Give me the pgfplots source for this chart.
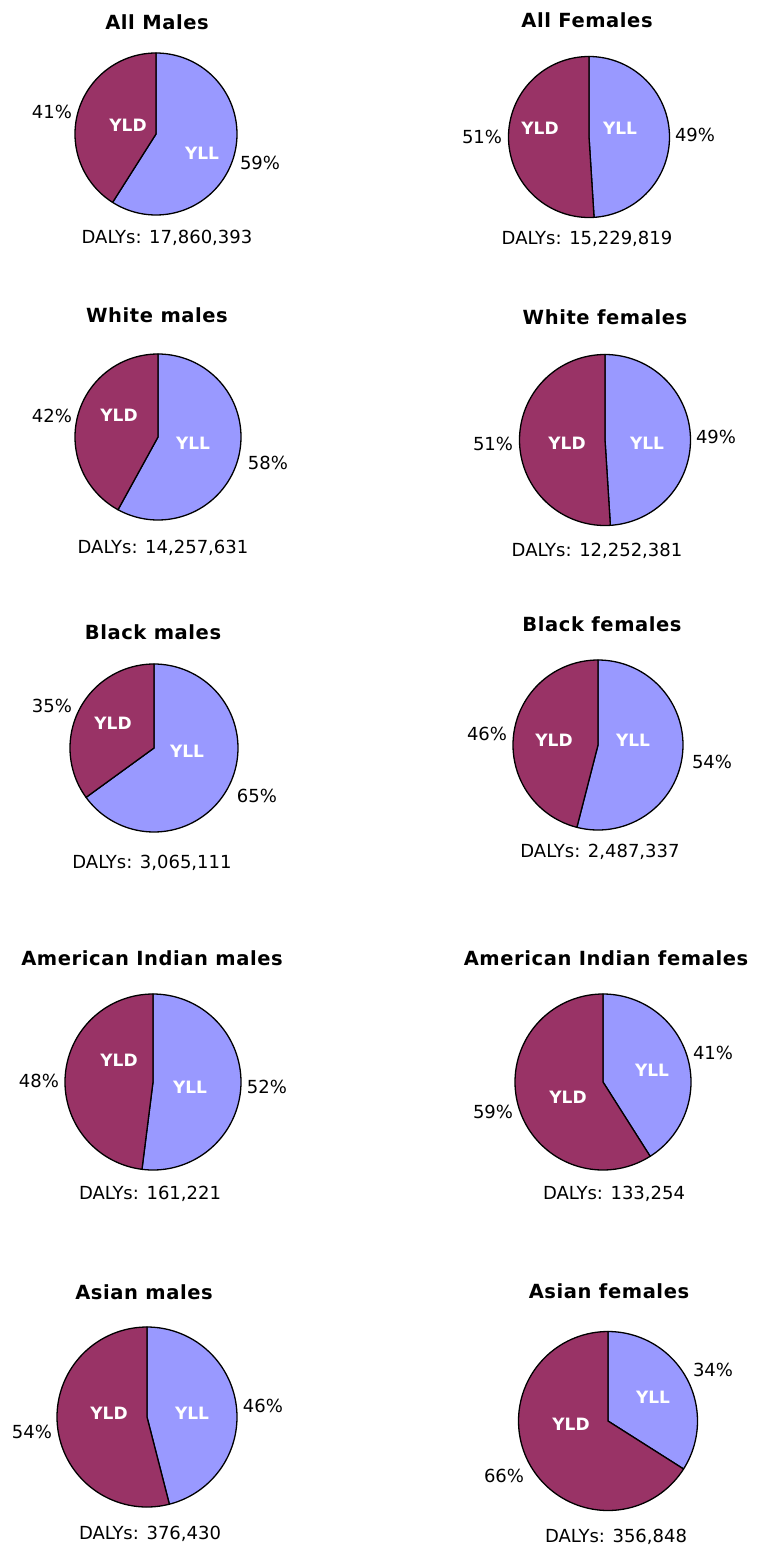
\documentclass[border=0pt]{standalone}
\usepackage{pgfplots}
\pgfplotsset{compat=1.18}
\usepackage{fontspec}
\setmainfont{DejaVu Sans}
\newfontfamily\titlefont[LetterSpace=3]{DejaVu Sans}
\definecolor{yldc}{RGB}{153,51,102}
\definecolor{yllc}{RGB}{153,153,255}
% pie: cx, cy, r, YLL percent (YLL clockwise from 12 o'clock)
\newcommand{\pie}[4]{%
  \addplot[fill=yllc, draw=black, line width=1.3pt, line join=round, domain=90-3.6*#4:90, samples=90, variable=\t]
    ({#1+#3*cos(\t)},{#2-#3*sin(\t)}) -- (axis cs:#1,#2) -- cycle;
  \addplot[fill=yldc, draw=black, line width=1.3pt, line join=round, domain=-270:90-3.6*#4, samples=90, variable=\t]
    ({#1+#3*cos(\t)},{#2-#3*sin(\t)}) -- (axis cs:#1,#2) -- cycle;
}
\begin{document}
\begin{tikzpicture}[
  ttl/.style={anchor=base, yshift=-7.1pt, font=\titlefont\bfseries\fontsize{19.5}{22}\selectfont, inner sep=0pt},
  lbl/.style={anchor=base, yshift=-6.6pt, font=\fontsize{18}{20}\selectfont, inner sep=0pt},
  inl/.style={anchor=base, yshift=-6.2pt, font=\bfseries\fontsize{17}{19}\selectfont, text=white, inner sep=0pt}]
\path[use as bounding box] (0,0) rectangle (756pt,1549pt);
\begin{axis}[x=1pt, y=1pt, xmin=0, xmax=756, ymin=0, ymax=1549, y dir=reverse,
  hide axis, clip=false, at={(0,0)}, anchor=south west]
% ---- data: centre x, centre y, radius, YLL %
\pie{156}{134}{81}{59}
\pie{589}{137}{80.5}{49}
\pie{158}{437}{83}{58}
\pie{605}{440}{85.5}{49}
\pie{154}{748}{84}{65}
\pie{598}{745}{85}{54}
\pie{153}{1082}{88}{52}
\pie{603}{1082}{88}{41}
\pie{147}{1417}{90}{46}
\pie{608}{1421}{89.5}{34}
% ---- titles
\node[ttl] at (axis cs:157,22) {All Males};
\node[ttl] at (axis cs:587,20) {All Females};
\node[ttl] at (axis cs:157,315) {White males};
\node[ttl] at (axis cs:605,317) {White females};
\node[ttl] at (axis cs:153,632) {Black males};
\node[ttl] at (axis cs:602,624) {Black females};
\node[ttl] at (axis cs:152,958) {American Indian males};
\node[ttl] at (axis cs:606,958) {American Indian females};
\node[ttl] at (axis cs:144,1292) {Asian males};
\node[ttl] at (axis cs:609,1291) {Asian females};
% ---- totals
\node[lbl] at (axis cs:167,237) {DALYs: 17,860,393};
\node[lbl] at (axis cs:587,238) {DALYs: 15,229,819};
\node[lbl] at (axis cs:163,547) {DALYs: 14,257,631};
\node[lbl] at (axis cs:597,550) {DALYs: 12,252,381};
\node[lbl] at (axis cs:152,862) {DALYs: 3,065,111};
\node[lbl] at (axis cs:600,851) {DALYs: 2,487,337};
\node[lbl] at (axis cs:150,1193) {DALYs: 161,221};
\node[lbl] at (axis cs:614,1193) {DALYs: 133,254};
\node[lbl] at (axis cs:150,1533) {DALYs: 376,430};
\node[lbl] at (axis cs:616,1536) {DALYs: 356,848};
% ---- percentages
\node[lbl] at (axis cs:52,112) {41\%};
\node[lbl] at (axis cs:260,163) {59\%};
\node[lbl] at (axis cs:482,137) {51\%};
\node[lbl] at (axis cs:695,135) {49\%};
\node[lbl] at (axis cs:52,416) {42\%};
\node[lbl] at (axis cs:268,463) {58\%};
\node[lbl] at (axis cs:493,444) {51\%};
\node[lbl] at (axis cs:716,437) {49\%};
\node[lbl] at (axis cs:52,706) {35\%};
\node[lbl] at (axis cs:257,796) {65\%};
\node[lbl] at (axis cs:487,734) {46\%};
\node[lbl] at (axis cs:712,762) {54\%};
\node[lbl] at (axis cs:39,1081) {48\%};
\node[lbl] at (axis cs:267,1087) {52\%};
\node[lbl] at (axis cs:713,1053) {41\%};
\node[lbl] at (axis cs:493,1112) {59\%};
\node[lbl] at (axis cs:32,1432) {54\%};
\node[lbl] at (axis cs:263,1406) {46\%};
\node[lbl] at (axis cs:713,1370) {34\%};
\node[lbl] at (axis cs:504,1476) {66\%};
% ---- inner labels
\node[inl] at (axis cs:128,125) {YLD};
\node[inl] at (axis cs:202,153) {YLL};
\node[inl] at (axis cs:540,128) {YLD};
\node[inl] at (axis cs:620,128) {YLL};
\node[inl] at (axis cs:119,415) {YLD};
\node[inl] at (axis cs:193,443) {YLL};
\node[inl] at (axis cs:567,443) {YLD};
\node[inl] at (axis cs:647,443) {YLL};
\node[inl] at (axis cs:113,723) {YLD};
\node[inl] at (axis cs:187,751) {YLL};
\node[inl] at (axis cs:554,740) {YLD};
\node[inl] at (axis cs:633,740) {YLL};
\node[inl] at (axis cs:119,1060) {YLD};
\node[inl] at (axis cs:190,1087) {YLL};
\node[inl] at (axis cs:652,1070) {YLL};
\node[inl] at (axis cs:568,1097) {YLD};
\node[inl] at (axis cs:109,1413) {YLD};
\node[inl] at (axis cs:192,1413) {YLL};
\node[inl] at (axis cs:653,1397) {YLL};
\node[inl] at (axis cs:571,1424) {YLD};
\end{axis}
\end{tikzpicture}
\end{document}
